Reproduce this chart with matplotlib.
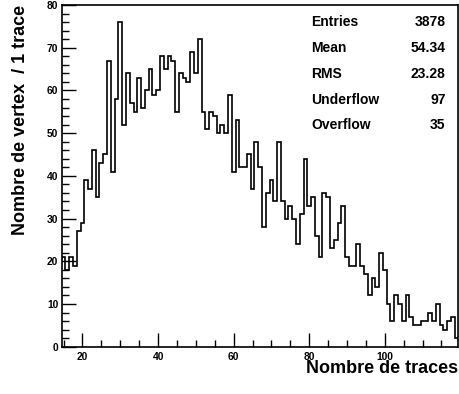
import numpy as np
import matplotlib
matplotlib.use("Agg")
import matplotlib.pyplot as plt
from matplotlib.ticker import MultipleLocator

# ---- data (one bin per integer number of tracks) ----
first_bin = 15
counts = [21, 18, 21, 19, 27, 29,
          39, 37, 46, 35, 43, 45, 67, 41, 58, 76,
          52, 64, 57, 55, 63, 56, 60, 65, 59, 60,
          68, 65, 68, 67, 55, 64, 63, 62, 69, 64,
          72, 55, 51, 55, 54, 50, 52, 50, 59, 41,
          53, 42, 42, 45, 37, 48, 42, 28, 36, 39,
          34, 48, 34, 30, 33, 30, 24, 31, 44, 33,
          35, 26, 21, 36, 35, 23, 25, 29, 33, 21,
          19, 19, 24, 19, 17, 12, 16, 14, 22, 18,
          10, 6, 12, 10, 6, 12, 7, 5, 5, 6,
          6, 8, 6, 10, 5, 4, 6, 7, 2]
stat_names = ["Entries", "Mean", "RMS", "Underflow", "Overflow"]
stat_values = ["3878", "54.34", "23.28", "97", "35"]
xlabel = "Nombre de traces"
ylabel = "Nombre de vertex  / 1 trace"

W, H = 460, 394
plt.rcParams['font.family'] = ['Liberation Sans', 'DejaVu Sans']
plt.rcParams['font.weight'] = 'bold'

fig = plt.figure(figsize=(W / 100, H / 100), dpi=100)
L, R, T, B = 61.7, 458.5, 5.0, 346.7
ax = fig.add_axes([L / W, 1 - B / H, (R - L) / W, (B - T) / H])

edges = np.arange(len(counts) + 1) + first_bin - 0.5
ax.stairs(counts, edges, color='black', lw=1.2, baseline=None)

ax.set_xlim(edges[0], edges[-1])
ax.set_ylim(0, 80)

ax.xaxis.set_major_locator(MultipleLocator(20))
ax.xaxis.set_minor_locator(MultipleLocator(5))
ax.yaxis.set_major_locator(MultipleLocator(10))
ax.yaxis.set_minor_locator(MultipleLocator(2))
ax.tick_params(which='both', direction='in', top=False, right=False,
               width=1.0, labelsize=7.4, color='black')
ax.tick_params(which='major', length=10)
ax.tick_params(which='minor', length=5)
ax.tick_params(axis='x', which='major', pad=3.5)
ax.tick_params(axis='y', which='major', pad=2.5)
for lab in ax.get_xticklabels() + ax.get_yticklabels():
    lab.set_fontweight('bold')
for sp in ax.spines.values():
    sp.set_linewidth(1.2)

fig.text(R / W, 1 - 373.3 / H, xlabel, ha='right', va='baseline',
         fontsize=13, fontweight='bold')
fig.text(21 / W, 1 - T / H, ylabel, ha='center', va='top', rotation=90,
         fontsize=13, fontweight='bold')

rows_y = [22, 48, 74, 100, 125]
for name, val, y in zip(stat_names, stat_values, rows_y):
    fig.text(311.5 / W, 1 - y / H, name, ha='left', va='center',
             fontsize=10, fontweight='bold')
    fig.text(445.7 / W, 1 - y / H, val, ha='right', va='center',
             fontsize=10, fontweight='bold')

fig.savefig("out.png", dpi=100)
